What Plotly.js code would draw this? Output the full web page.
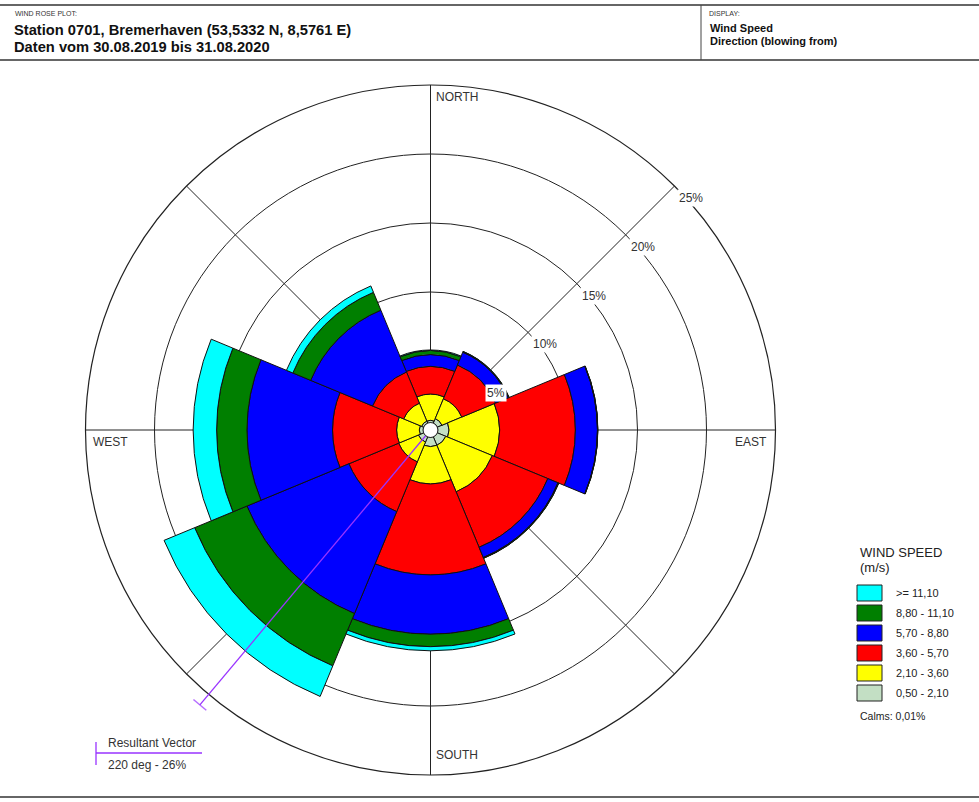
<!DOCTYPE html>
<html><head><meta charset="utf-8">
<script src="https://cdn.plot.ly/plotly-3.0.1.min.js"></script>
<style>html,body{margin:0;padding:0;background:#fff}#chart{width:979px;height:802px}</style>
</head><body><div id="chart"></div>
<script>
// ---- data ----
const directions   = ['N','NE','E','SE','S','SW','W','NW'];
const directionDeg = [0,45,90,135,180,225,270,315];
const speedBins  = ['0,50 - 2,10','2,10 - 3,60','3,60 - 5,70','5,70 - 8,80','8,80 - 11,10','>= 11,10'];
const binColors  = ['#c3dfc4','#ffff00','#ff0000','#0000ff','#007f00','#00ffff'];
// frequency (%) per direction for each speed class
const freq_0_50_2_10  = [0.70,0.90,1.34,1.20,1.20,0.95,0.81,0.70];
const freq_2_10_3_60  = [1.90,1.55,3.66,3.65,2.70,1.55,1.64,1.40];
const freq_3_60_5_70  = [2.00,2.65,5.50,4.35,6.60,3.90,4.65,2.45];
const freq_5_70_8_80  = [0.85,1.00,1.60,0.80,4.30,8.00,6.20,4.85];
const freq_8_80_11_10 = [0.30,0.05,0.02,0.05,0.90,4.10,2.20,1.40];
const freq_ge_11_10   = [0.05,0.02,0.01,0.02,0.30,2.40,1.70,0.50];
const calmsText = 'Calms: 0,01%';
const ringTicks = [5,10,15,20,25];
const ringLabels = ['5%','10%','15%','20%','25%'];
const resultantDir = 220;
const resultantPct = 26;
const compassLabels = ['NORTH','EAST','SOUTH','WEST'];

const freqs = [freq_0_50_2_10,freq_2_10_3_60,freq_3_60_5_70,freq_5_70_8_80,freq_8_80_11_10,freq_ge_11_10];

// ---- geometry (pixels) ----
const W = 979, H = 802;
const CX = 430.5, CY = 430, R = 345, HOLE = 7.5;
const px = x => x / W, py = y => 1 - y / H;
const rMin = 5 - (69 - HOLE) / 13.8;   // radial value at hole edge
const scale = (R - HOLE) / (25 - rMin);
const rPix = r => HOLE + (r - rMin) * scale;
const rMax2 = 26.5, R2 = rPix(rMax2);   // overlay polar for the resultant vector

const traces = freqs.map((f, i) => ({
  type: 'barpolar',
  r: f, theta: directionDeg,
  name: speedBins[i],
  marker: {color: binColors[i], line: {color: '#111', width: 1}},
  showlegend: false,
  hoverinfo: 'name+r+theta'
}));

const purple = '#9933ff';
traces.push({
  type: 'scatterpolar', subplot: 'polar2', mode: 'lines+markers',
  r: [0, resultantPct], theta: [resultantDir, resultantDir],
  line: {color: purple, width: 1.3},
  marker: {symbol: 'line-ns', size: [0, 12], angle: resultantDir - 90, line: {color: purple, width: 1.5}, color: purple},
  cliponaxis: false, showlegend: false, hoverinfo: 'skip'
});

const fontA = '"Liberation Sans", Arial, sans-serif';
const ann = [];
function txt(text, x, y, opt) {
  ann.push(Object.assign({text: text, x: px(x), y: py(y), xref: 'paper', yref: 'paper', showarrow: false,
    xanchor: 'left', yanchor: 'middle', font: {family: fontA, size: 12, color: '#333'}}, opt || {}));
}
// header
txt('WIND ROSE PLOT:', 13, 13, {font: {family: fontA, size: 7, color: '#333'}});
txt('<b>Station 0701, Bremerhaven (53,5332 N, 8,5761 E)</b>', 12, 30, {font: {family: fontA, size: 14.7, color: '#111'}});
txt('<b>Daten vom 30.08.2019 bis 31.08.2020</b>', 12, 47, {font: {family: fontA, size: 14.7, color: '#111'}});
txt('DISPLAY:', 707, 13, {font: {family: fontA, size: 7, color: '#333'}});
txt('<b>Wind Speed</b>', 708, 28, {font: {family: fontA, size: 11, color: '#111'}});
txt('<b>Direction (blowing from)</b>', 708, 41, {font: {family: fontA, size: 11, color: '#111'}});
// compass labels
txt(compassLabels[0], 434, 97);
txt(compassLabels[1], 769, 442, {xanchor: 'right'});
txt(compassLabels[2], 434, 755);
txt(compassLabels[3], 91, 442);
// ring labels along NE spoke
ringTicks.forEach((v, i) => {
  const d = rPix(v) / Math.SQRT2;
  txt(ringLabels[i], CX + d + 17, CY - d + 12, {xanchor: 'center', bgcolor: '#fff', borderpad: 1});
});
// legend (built from the speed classes)
txt('WIND SPEED', 858, 552, {font: {family: fontA, size: 13, color: '#222'}});
txt('(m/s)', 858, 567, {font: {family: fontA, size: 13, color: '#222'}});
const shapes = [];
for (let k = 0; k < speedBins.length; k++) {
  const i = speedBins.length - 1 - k;
  const yc = 593 + 20 * k;
  shapes.push({type: 'rect', xref: 'paper', yref: 'paper', x0: px(857), x1: px(882), y0: py(yc - 8), y1: py(yc + 8),
    fillcolor: binColors[i], line: {color: '#222', width: 1}});
  txt(speedBins[i], 894, yc, {font: {family: fontA, size: 11, color: '#222'}});
}
txt(calmsText, 858, 716, {font: {family: fontA, size: 10.5, color: '#222'}});
// resultant vector key
txt('Resultant Vector', 106, 743);
txt(resultantDir + ' deg - ' + resultantPct + '%', 106, 765);

shapes.push(
  {type: 'line', xref: 'paper', yref: 'paper', x0: 0, x1: 1, y0: py(5), y1: py(5), line: {color: '#666', width: 2}},
  {type: 'line', xref: 'paper', yref: 'paper', x0: 0, x1: 1, y0: py(60), y1: py(60), line: {color: '#666', width: 2}},
  {type: 'line', xref: 'paper', yref: 'paper', x0: px(701), x1: px(701), y0: py(5), y1: py(60), line: {color: '#444', width: 1}},
  {type: 'line', xref: 'paper', yref: 'paper', x0: 0, x1: 1, y0: py(797), y1: py(797), line: {color: '#666', width: 2}},
  {type: 'line', xref: 'paper', yref: 'paper', x0: px(96), x1: px(202), y0: py(753), y1: py(753), line: {color: purple, width: 1.3}},
  {type: 'line', xref: 'paper', yref: 'paper', x0: px(96), x1: px(96), y0: py(742), y1: py(765), line: {color: purple, width: 1.3}}
);

const hiddenAxes = {
  angularaxis: {rotation: 90, direction: 'clockwise', showticklabels: false, ticks: '', showgrid: false, showline: false},
  radialaxis: {range: [rMin, rMax2], showticklabels: false, ticks: '', showgrid: false, showline: false}
};

const layout = {
  width: W, height: H,
  margin: {l: 0, r: 0, t: 0, b: 0},
  paper_bgcolor: '#fff',
  showlegend: false,
  polar: {
    domain: {x: [px(CX - R), px(CX + R)], y: [py(CY + R), py(CY - R)]},
    hole: HOLE / R,
    bgcolor: '#fff',
    barmode: 'stack', bargap: 0,
    angularaxis: {rotation: 90, direction: 'clockwise', tickmode: 'array', tickvals: directionDeg,
      showticklabels: false, ticks: '', showgrid: true, gridcolor: '#222', gridwidth: 1,
      showline: true, linecolor: '#222', linewidth: 1.2, layer: 'below traces'},
    radialaxis: {range: [rMin, 25], tickmode: 'array', tickvals: ringTicks, showticklabels: false, ticks: '',
      showline: false, showgrid: true, gridcolor: '#222', gridwidth: 1, layer: 'below traces'}
  },
  polar2: Object.assign({
    domain: {x: [px(CX - R2), px(CX + R2)], y: [py(CY + R2), py(CY - R2)]},
    hole: HOLE / R2,
    bgcolor: 'rgba(0,0,0,0)'
  }, hiddenAxes),
  annotations: ann,
  shapes: shapes
};

Plotly.newPlot('chart', traces, layout, {displayModeBar: false, staticPlot: true});
</script>
</body></html>
